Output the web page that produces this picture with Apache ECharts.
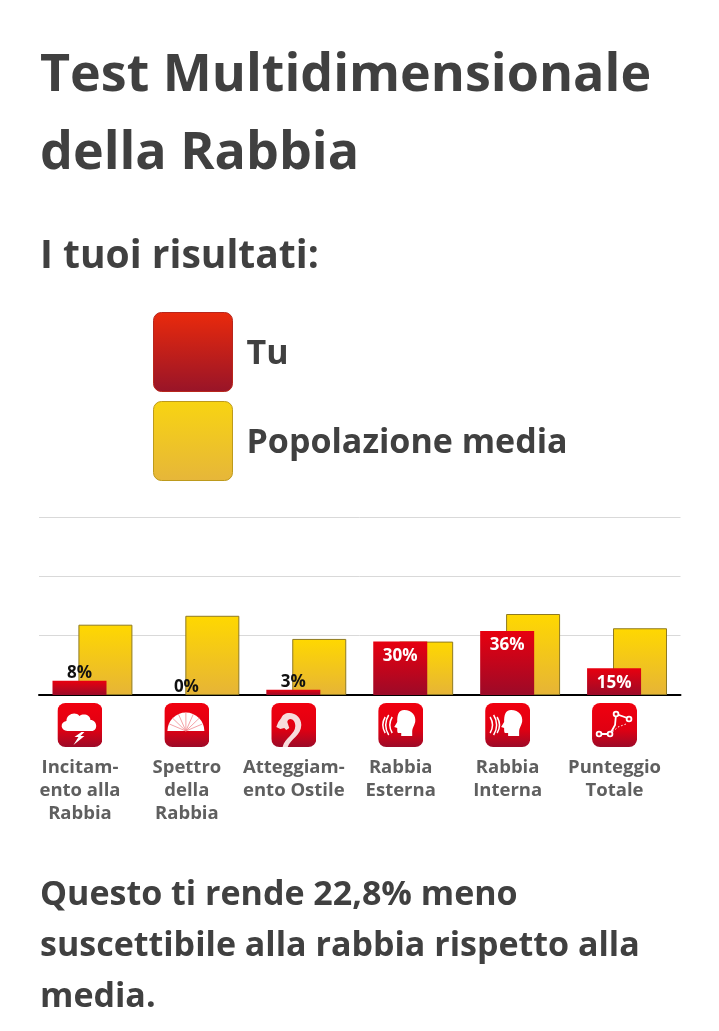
<!DOCTYPE html>
<html>
<head>
<meta charset="utf-8">
<style>
  html, body { margin: 0; padding: 0; background: #fff; }
  #chart { width: 719px; height: 1031px; }
</style>
<script src="https://cdn.jsdelivr.net/npm/echarts@6/dist/echarts.min.js"></script>
</head>
<body>
<div id="chart"></div>
<script>
const categories = [
  "Incitam-\nento alla\nRabbia",
  "Spettro\ndella\nRabbia",
  "Atteggiam-\nento Ostile",
  "Rabbia\nEsterna",
  "Rabbia\nInterna",
  "Punteggio\nTotale",
];
const tuValues = [8, 0, 3, 30, 36, 15];
const mediaValues = [39.5, 44.5, 31.5, 30, 45.5, 37.5];
const legendNames = ["Tu", "Popolazione media"];

const FONT = '"Open Sans", sans-serif';
const TEXT = "#404040";

// white glyphs of the six category icons
const head = (x) =>
  `<path transform="translate(${x} 0)" d="M6 7c8 0 12 6 11 12-1 4-3 6-3 9v5H3v-3H0c-1 0-1-3-1-5l-3-1 3-5C-1 12 0 7 6 7z" fill="#fff"/>`;
const glyphs = [
  `<path d="M10 28c-7 0-8-9-1-10 0-7 9-10 13-5 4-3 11-1 11 4 7 0 8 11 1 11z" fill="#fff"/><path d="M24 29l-7 5h4l-5 8 11-9h-4l4-4z" fill="#fff"/>`,
  `<path d="M3 28a18.5 18.5 0 0 1 37 0z" fill="#fff"/><path d="M21.5 28L8 15M21.5 28L14 11M21.5 28V9M21.5 28L29 11M21.5 28L35 15M21.5 28L5 21M21.5 28L38 21" stroke="#f08a90" stroke-width=".8"/>`,
  `<path d="M16 46c1-9 14-13 14-24 0-7-5-12-12-12-4 0-7 2-8 5l-3 4-2 5 4 2 4-1 2 2 3-2-2-6c0-2 2-3 3-3 3 0 5 3 5 7 0 9-12 12-13 23z" fill="#f7dcdc"/>`,
  `${head(20)}<path d="M14 14c-3 5-3 11 0 16M10.5 12c-4 6-4 14 0 20M7 14c-3 5-3 11 0 16" fill="none" stroke="#fff" stroke-width="1.5"/>`,
  `${head(20)}<path d="M5 14c3 5 3 11 0 16M8.5 12c4 6 4 14 0 20M12 14c3 5 3 11 0 16" fill="none" stroke="#fff" stroke-width="1.5"/>`,
  `<path d="M7 31h11l5-9 1-11 14 5" fill="none" stroke="#fff" stroke-width="1.8"/><path d="M18 31l8-7 8-3" fill="none" stroke="#fff" stroke-width="1" stroke-dasharray="1.5 2"/><g fill="#d9101f" stroke="#fff" stroke-width="1.8"><circle cx="7" cy="31" r="2.4"/><circle cx="18" cy="31" r="2.4"/><circle cx="24" cy="11" r="2.4"/><circle cx="37" cy="16" r="2.4"/></g>`,
];

const iconUri = (glyph) =>
  "data:image/svg+xml;charset=utf-8," +
  encodeURIComponent(
    `<svg xmlns="http://www.w3.org/2000/svg" width="45" height="44" viewBox="0 0 45 44">` +
      `<defs><linearGradient id="g" x1="0" y1="0" x2="0" y2="1">` +
      `<stop offset="0" stop-color="#f0000f"/><stop offset=".6" stop-color="#e00012"/><stop offset="1" stop-color="#9c0a28"/>` +
      `</linearGradient><clipPath id="c"><rect width="45" height="44" rx="8"/></clipPath></defs>` +
      `<rect width="45" height="44" rx="8" fill="url(#g)"/><g clip-path="url(#c)">${glyph}</g></svg>`
  );

const gradient = (top, bottom) => ({
  type: "linear", x: 0, y: 0, x2: 0, y2: 1,
  colorStops: [
    { offset: 0, color: top },
    { offset: 1, color: bottom },
  ],
});

const richLabels = {
  gap: { height: 9, lineHeight: 9, fontSize: 1 },
  t: {
    fontFamily: FONT, fontWeight: "bold", fontSize: 18.5,
    lineHeight: 23, color: "#5f5f5f", align: "center",
  },
};
glyphs.forEach((g, i) => {
  richLabels["icon" + i] = {
    width: 45, height: 44, align: "center",
    backgroundColor: { image: iconUri(g) },
  };
});

const SQUARE = "path://M8 0H72A8 8 0 0 1 80 8V72A8 8 0 0 1 72 80H8A8 8 0 0 1 0 72V8A8 8 0 0 1 8 0Z";

const chart = echarts.init(document.getElementById("chart"), null, { renderer: "canvas" });

chart.setOption({
  animation: false,
  backgroundColor: "#fff",
  title: [
    {
      text: "Test Multidimensionale\ndella Rabbia",
      left: 40, top: 37, padding: 0,
      textStyle: { fontFamily: FONT, fontWeight: "bold", fontSize: 52, lineHeight: 78, color: TEXT },
    },
    {
      text: "I tuoi risultati:",
      left: 40, top: 231, padding: 0,
      textStyle: { fontFamily: FONT, fontWeight: "bold", fontSize: 39, lineHeight: 52, color: TEXT },
    },
    {
      text: "Questo ti rende 22,8% meno\nsuscettibile alla rabbia rispetto alla\nmedia.",
      left: 40, top: 870, padding: 0,
      textStyle: { fontFamily: FONT, fontWeight: "bold", fontSize: 34, lineHeight: 51, color: TEXT },
    },
  ],
  legend: {
    orient: "vertical",
    left: 153, top: 312,
    padding: 0,
    itemWidth: 79, itemHeight: 79, itemGap: 9,
    icon: SQUARE,
    selectedMode: false,
    formatter: (name) => `{s|${name}}`,
    textStyle: {
      rich: {
        s: { fontFamily: FONT, fontWeight: "bold", fontSize: 34, color: TEXT, padding: [5, 0, 0, 9] },
      },
    },
    data: [
      {
        name: legendNames[0],
        itemStyle: { color: gradient("#ea2a0c", "#981428"), borderColor: "#b8261c", borderWidth: 1 },
      },
      {
        name: legendNames[1],
        itemStyle: { color: gradient("#f8d412", "#e6b63a"), borderColor: "#bd9a1c", borderWidth: 1 },
      },
    ],
  },
  grid: { left: 39, width: 641.5, top: 517, height: 178 },
  xAxis: {
    type: "category",
    data: categories,
    axisLine: { onZero: true, lineStyle: { color: "#000", width: 2 } },
    axisTick: { show: false },
    axisLabel: {
      interval: 0,
      margin: 8,
      padding: [0, 25, 0, 0],
      verticalAlign: "top",
      formatter: (value, index) =>
        `{icon${index}|}\n{gap|}\n` + value.split("\n").map((l) => `{t|${l}}`).join("\n"),
      rich: richLabels,
    },
  },
  yAxis: {
    type: "value",
    min: 0,
    max: 100,
    interval: 100 / 3,
    axisLine: { show: false },
    axisTick: { show: false },
    axisLabel: { show: false },
    splitLine: { lineStyle: { color: "#d9d9d9", width: 1 } },
  },
  series: [
    {
      name: legendNames[0],
      type: "bar",
      z: 3,
      barWidth: 54,
      barGap: "-52%",
      itemStyle: { color: gradient("#e8000f", "#9c0a28") },
      data: tuValues.map((v) => ({
        value: v,
        label: v < 10
          ? { position: "top", distance: -1, color: "#111" }
          : { position: "insideTop", distance: 6, color: "#fff" },
      })),
      label: {
        show: true,
        fontFamily: FONT,
        fontWeight: "bold",
        fontSize: 17,
        formatter: "{c}%",
      },
    },
    {
      name: legendNames[1],
      type: "bar",
      z: 2,
      barWidth: 54,
      itemStyle: {
        color: gradient("#ffd800", "#e6b437"),
        borderColor: "#8f7a22",
        borderWidth: 1,
      },
      data: mediaValues,
    },
  ],
});

window.addEventListener("resize", () => chart.resize());
</script>
</body>
</html>
